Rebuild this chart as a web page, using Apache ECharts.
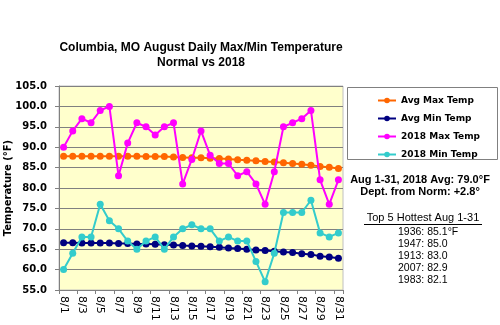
<!DOCTYPE html>
<html><head><meta charset="utf-8">
<script src="https://cdn.jsdelivr.net/npm/echarts@6/dist/echarts.min.js"></script>
<style>html,body{margin:0;padding:0;background:#fff}#c{width:500px;height:325px}</style>
</head><body><div id="c"></div>
<script>
var days = ['8/1','8/2','8/3','8/4','8/5','8/6','8/7','8/8','8/9','8/10','8/11','8/12','8/13','8/14','8/15','8/16','8/17','8/18','8/19','8/20','8/21','8/22','8/23','8/24','8/25','8/26','8/27','8/28','8/29','8/30','8/31'];
var avgMax = [87.8,87.8,87.8,87.8,87.8,87.8,87.8,87.8,87.8,87.7,87.7,87.7,87.6,87.5,87.4,87.4,87.3,87.2,87.1,86.9,86.8,86.7,86.5,86.4,86.2,86.0,85.8,85.6,85.3,85.1,84.8];
var avgMin = [66.6,66.6,66.5,66.5,66.5,66.5,66.4,66.4,66.3,66.3,66.2,66.1,66.0,65.9,65.8,65.7,65.6,65.5,65.3,65.2,65.0,64.8,64.7,64.5,64.3,64.2,63.9,63.7,63.3,63.1,62.8];
var max2018 = [90,94,97,96,99,100,83,91,96,95,93,95,96,81,87,94,88,86,86,83,84,81,76,84,95,96,97,99,82,76,82];
var min2018 = [60,64,68,68,76,72,70,67,65,67,68,65,68,70,71,70,70,67,68,67,67,62,57,64,74,74,74,77,69,68,69];
var seriesNames = ['Avg Max Temp','Avg Min Temp','2018 Max Temp','2018 Min Temp'];
var seriesColors = ['#FF6600','#000080','#FF00FF','#33CCCC'];
var yTicks = {min:55, max:105, interval:5};
var titleLines = ['Columbia, MO August Daily Max/Min Temperature','Normal vs 2018'];
var noteLines = ['Aug 1-31, 2018 Avg: 79.0\u00B0F','Dept. from Norm: +2.8\u00B0'];
var topHeading = 'Top 5 Hottest Aug 1-31';
var topList = ['1936: 85.1\u00B0F','1947: 85.0','1913: 83.0','2007: 82.9','1983: 82.1'];

var chart = echarts.init(document.getElementById('c'), null, {renderer:'canvas'});
var dataArr = [avgMax, avgMin, max2018, min2018];
var series = dataArr.map(function(d,i){
  return {name:seriesNames[i], type:'line', data:d, symbol:'circle', symbolSize:7, showSymbol:true, showAllSymbol:true,
    lineStyle:{color:seriesColors[i], width:2}, itemStyle:{color:seriesColors[i]},
    z: i<2 ? 2 : 3, animation:false};
});
var gfx = [
  {type:'rect', shape:{x:347.5,y:87.5,width:150,height:72}, style:{fill:'none',stroke:'#808080',lineWidth:1}},
  {type:'text', x:420, y:180, style:{text:noteLines[0], font:'bold 11px "Liberation Sans"', fill:'#000', align:'center', verticalAlign:'middle'}},
  {type:'text', x:420, y:192, style:{text:noteLines[1], font:'bold 11px "Liberation Sans"', fill:'#000', align:'center', verticalAlign:'middle'}},
  {type:'text', x:423, y:218, style:{text:topHeading, font:'11px "Liberation Sans"', fill:'#000', align:'center', verticalAlign:'middle'}},
  {type:'line', shape:{x1:364, y1:224.5, x2:482, y2:224.5}, style:{stroke:'#000', lineWidth:1}}
];
topList.forEach(function(t,i){
  gfx.push({type:'text', x:398, y:232+i*12, style:{text:t, font:'10.5px "Liberation Sans"', fill:'#000', align:'left', verticalAlign:'middle'}});
});
titleLines.forEach(function(t,i){
  gfx.push({type:'text', x:201, y:48+i*15, style:{text:t, font:'bold 12px "Liberation Sans"', fill:'#000', align:'center', verticalAlign:'middle'}});
});
chart.setOption({
  animation:false,
  backgroundColor:'#fff',
  grid:{left:59, right:157, top:86, bottom:35, containLabel:false, outerBoundsMode:'none', show:true, borderColor:'#c0c0c0', borderWidth:1, backgroundColor:'#FFFFCC'},
  legend:{orient:'vertical', left:372, top:90, itemWidth:18, itemHeight:7, itemGap:7,
    textStyle:{fontFamily:'DejaVu Sans', fontWeight:'bold', fontSize:9, color:'#000', lineHeight:11},
    data:seriesNames},
  xAxis:{type:'category', data:days, boundaryGap:true,
    axisLine:{lineStyle:{color:'#808080'}},
    axisTick:{show:true, interval:1, length:4, lineStyle:{color:'#808080'}},
    axisLabel:{interval:1, rotate:-90, margin:6, fontFamily:'DejaVu Sans', fontSize:11, color:'#000'}},
  yAxis:{type:'value', min:yTicks.min, max:yTicks.max, interval:yTicks.interval,
    name:'Temperature (\u00B0F)', nameLocation:'middle', nameGap:46, nameRotate:90, nameMoveOverlap:false,
    nameTextStyle:{fontFamily:'DejaVu Sans', fontWeight:'bold', fontSize:10, color:'#000'},
    axisLine:{show:true, lineStyle:{color:'#808080'}},
    axisTick:{show:true, length:4, lineStyle:{color:'#808080'}},
    splitLine:{lineStyle:{color:'#808080', width:1}},
    axisLabel:{formatter:function(v){return v.toFixed(1);}, margin:12, fontFamily:'DejaVu Sans', fontWeight:'bold', fontSize:10, color:'#000'}},
  series:series,
  graphic:gfx
});
</script></body></html>
